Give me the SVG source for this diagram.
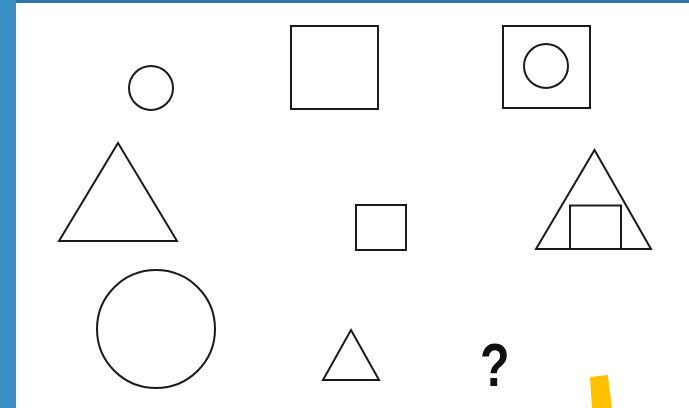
<svg xmlns="http://www.w3.org/2000/svg" width="689" height="408" viewBox="0 0 689 408">
<style>
.s{fill:none;stroke:#1a1a1a;stroke-width:2}
</style>
<rect x="0" y="0" width="689" height="408" fill="#ffffff"/>
<rect x="0" y="0" width="689" height="3" fill="#2a77a8"/>
<rect x="0" y="0" width="16" height="408" fill="#3b8fc7"/>
<g id="small-circle"><circle class="s" cx="151" cy="88" r="22"/></g>
<g id="square-top"><rect class="s" x="291" y="26" width="87" height="83"/></g>
<g id="square-circle"><rect class="s" x="503" y="26" width="87" height="82"/><circle class="s" cx="546" cy="66" r="22"/></g>
<g id="triangle-left"><polygon class="s" points="118,143 177,241 59,241"/></g>
<g id="small-square"><rect class="s" x="356" y="205" width="50" height="45"/></g>
<g id="triangle-square"><polygon class="s" points="594.5,150 651,249 536,249"/><rect class="s" x="570" y="205.5" width="51" height="43.5"/></g>
<g id="big-circle"><circle class="s" cx="156" cy="329" r="59"/></g>
<g id="small-triangle"><polygon class="s" points="351,330 379,380 323,380"/></g>
<g id="question"><text transform="translate(480,386) scale(0.78,1)" x="0" y="0" font-family="Liberation Sans, Arial, sans-serif" font-weight="bold" font-size="62" fill="#111">?</text></g>
<polygon points="591,378 607,376 611,408 593,408" fill="#ffc000" stroke="#ffc000" stroke-width="2" stroke-linejoin="round"/>
</svg>
